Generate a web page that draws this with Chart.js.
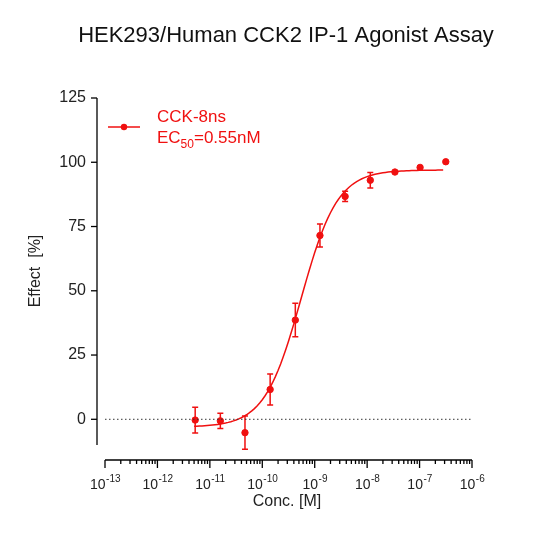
<!DOCTYPE html><html><head><style>html,body{margin:0;background:#fff}#w{width:533px;height:533px;position:relative}canvas{display:block}</style>
<script src="https://cdn.jsdelivr.net/npm/chart.js@4"></script></head><body><div id="w"><canvas id="c" width="533" height="533"></canvas></div>
<script>
const concLog=[-11.28,-10.8,-10.33,-9.85,-9.37,-8.9,-8.42,-7.94,-7.47,-6.99,-6.5];
const effect=[-0.3,-0.6,-5.2,11.6,38.6,71.5,86.7,93.0,96.2,98.0,100.2];
const errs=[5,3,6.5,6,6.5,4.5,2,3,0,0,0];
const fitBottom=-3, fitTop=97, fitLogEC50=Math.log10(0.55e-9), fitHill=1.25;
const yTicks=[0,25,50,75,100,125];
const xDecades=[-13,-12,-11,-10,-9,-8,-7,-6];
const RED='#f01010';
const F='Arial, "Liberation Sans"';
const pts=concLog.map((l,i)=>({x:Math.pow(10,l),y:effect[i]}));
const curve=[];for(let l=-11.3;l<=-6.5;l+=0.05){curve.push({x:Math.pow(10,l),y:fitBottom+(fitTop-fitBottom)/(1+Math.pow(10,(fitLogEC50-l)*fitHill))});}
const deco={id:'deco',afterDatasetsDraw(ch){
 const c=ch.ctx,x=ch.scales.x,y=ch.scales.y,a=ch.chartArea;
 c.save();c.strokeStyle=RED;c.lineWidth=1.5;
 pts.forEach((p,i)=>{if(!errs[i])return;const px=x.getPixelForValue(p.x),t=y.getPixelForValue(p.y+errs[i]),b=y.getPixelForValue(p.y-errs[i]);
  c.beginPath();c.moveTo(px,t);c.lineTo(px,b);c.moveTo(px-3,t);c.lineTo(px+3,t);c.moveTo(px-3,b);c.lineTo(px+3,b);c.stroke();});
 c.strokeStyle='#333';c.lineWidth=1;c.setLineDash([1.5,2.5]);const y0=y.getPixelForValue(0);c.beginPath();c.moveTo(a.left,y0);c.lineTo(a.right,y0);c.stroke();c.setLineDash([]);
 c.strokeStyle='#000';c.lineWidth=1.3;const ax=97;c.beginPath();c.moveTo(ax,a.top);c.lineTo(ax,a.bottom);c.stroke();
 c.fillStyle='#222';c.font='16px '+F;c.textAlign='right';c.textBaseline='middle';
 yTicks.forEach(v=>{const py=y.getPixelForValue(v);c.beginPath();c.moveTo(ax-6,py);c.lineTo(ax,py);c.stroke();c.fillText(v,ax-11,py);});
 const ay=460;c.beginPath();c.moveTo(a.left,ay);c.lineTo(a.right,ay);c.stroke();
 c.textBaseline='alphabetic';c.textAlign='left';
 xDecades.forEach((d,k)=>{const px=x.getPixelForValue(Math.pow(10,d));c.beginPath();c.moveTo(px,ay);c.lineTo(px,ay+8);c.stroke();
  c.font='14px '+F;const w1=c.measureText('10').width;c.font='10px '+F;const s='-'+Math.abs(d);const w2=c.measureText(s).width;
  const x0=px-(w1+w2)/2;c.font='14px '+F;c.fillText('10',x0,489);c.font='10px '+F;c.fillText(s,x0+w1+0.5,482);
  if(k<xDecades.length-1)for(let m=2;m<10;m++){const mp=x.getPixelForValue(m*Math.pow(10,d));c.beginPath();c.moveTo(mp,ay);c.lineTo(mp,ay+4);c.stroke();}});
 c.textAlign='center';c.font='16px '+F;c.fillText('Conc. [M]',287,506);
 c.save();c.translate(40,271);c.rotate(-Math.PI/2);c.fillText('Effect  [%]',0,0);c.restore();
 c.font='22px '+F;c.fillStyle='#111';c.fillText('HEK293/Human CCK2 IP-1 Agonist Assay',286,42);
 c.strokeStyle=RED;c.fillStyle=RED;c.lineWidth=1.5;c.beginPath();c.moveTo(108,127);c.lineTo(140,127);c.stroke();c.beginPath();c.arc(124,127,3.2,0,7);c.fill();
 c.textAlign='left';c.font='17px '+F;c.fillText('CCK-8ns',157,122);
 c.fillText('EC',157,143);let w=c.measureText('EC').width;c.font='12px '+F;c.fillText('50',157+w,148);let w2=c.measureText('50').width;
 c.font='17px '+F;c.fillText('=0.55nM',157+w+w2,143);
 c.restore();}};
new Chart(document.getElementById('c'),{type:'scatter',data:{datasets:[
 {data:curve,showLine:true,borderColor:RED,borderWidth:1.5,pointRadius:0},
 {data:pts,backgroundColor:RED,borderColor:RED,pointRadius:3.2}]},
 options:{responsive:false,animation:false,layout:{padding:{left:105,right:61,top:98,bottom:88}},
 plugins:{legend:{display:false},tooltip:{enabled:false}},
 scales:{x:{type:'logarithmic',min:1e-13,max:1e-6,display:false},y:{min:-10,max:125,display:false}}},
 plugins:[deco]});
</script></body></html>
